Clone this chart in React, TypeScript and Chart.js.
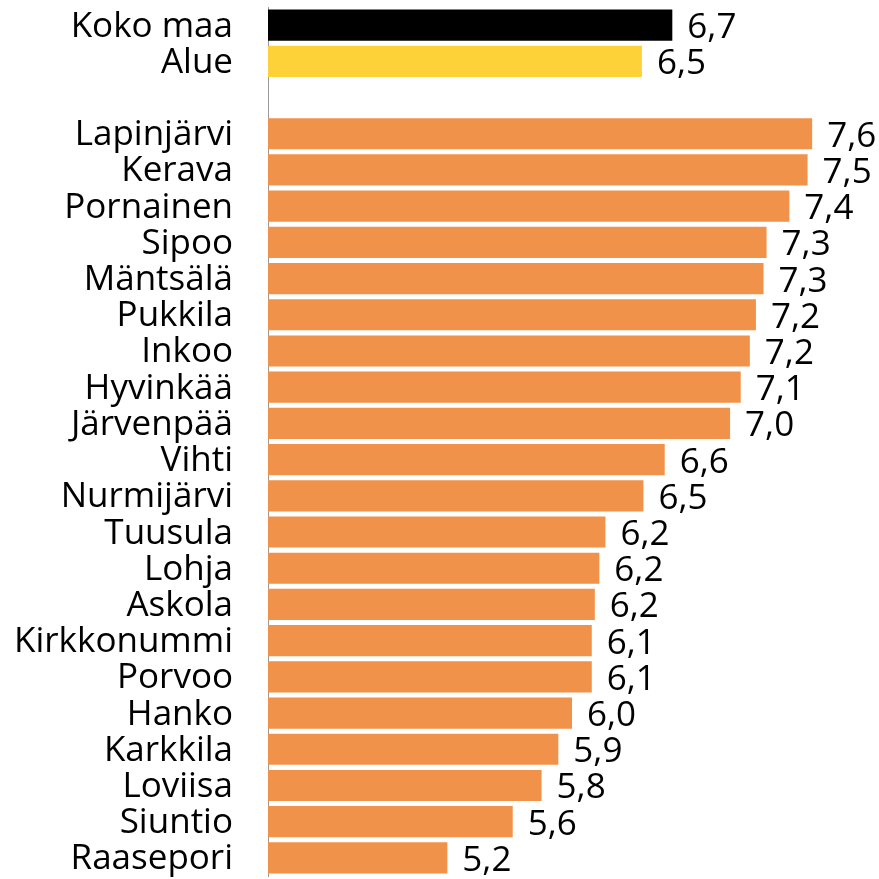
import React, { useEffect, useRef } from "react";
import { Chart, registerables } from "chart.js";

Chart.register(...registerables);

const categories = [
  "Koko maa", "Alue", "",
  "Lapinjärvi", "Kerava", "Pornainen", "Sipoo", "Mäntsälä", "Pukkila", "Inkoo",
  "Hyvinkää", "Järvenpää", "Vihti", "Nurmijärvi", "Tuusula", "Lohja", "Askola",
  "Kirkkonummi", "Porvoo", "Hanko", "Karkkila", "Loviisa", "Siuntio", "Raasepori",
];

const values: (number | null)[] = [
  6.66, 6.46, null,
  7.58, 7.55, 7.43, 7.28, 7.26, 7.21, 7.17,
  7.11, 7.04, 6.61, 6.47, 6.22, 6.18, 6.15,
  6.13, 6.13, 6.0, 5.91, 5.8, 5.61, 5.18,
];

const barColors = categories.map((c, i) => (i === 0 ? "#000000" : i === 1 ? "#FDD238" : "#F0924A"));

const FONT = "'Open Sans', sans-serif";
const FONT_SIZE = 35;

const labelsPlugin = {
  id: "labelsPlugin",
  afterDatasetsDraw(chart: any) {
    const ctx = chart.ctx;
    const meta = chart.getDatasetMeta(0);
    const yScale = chart.scales.y;
    ctx.save();
    ctx.font = `${FONT_SIZE}px ${FONT}`;
    ctx.fillStyle = "#000";
    ctx.textBaseline = "alphabetic";
    categories.forEach((c, i) => {
      if (!c) return;
      const y = yScale.getPixelForTick(i);
      ctx.textAlign = "right";
      ctx.fillText(c, 233, y + 11.5);
    });
    meta.data.forEach((bar: any, i: number) => {
      const v = values[i];
      if (v == null) return;
      const txt = v.toFixed(1).replace(".", ",");
      ctx.textAlign = "left";
      ctx.fillText(txt, bar.x + 15, bar.y + 13);
    });
    ctx.restore();
  },
};

export default function App() {
  const ref = useRef<HTMLCanvasElement>(null);
  useEffect(() => {
    if (!ref.current) return;
    const chart = new Chart(ref.current, {
      type: "bar",
      data: {
        labels: categories,
        datasets: [
          {
            data: values as any,
            backgroundColor: barColors,
            borderWidth: 0,
            categoryPercentage: 1,
            barPercentage: 0.86,
          },
        ],
      },
      options: {
        indexAxis: "y",
        animation: false,
        responsive: false,
        maintainAspectRatio: false,
        layout: { padding: { top: 7, bottom: 3, right: 3, left: 0 } },
        plugins: { legend: { display: false }, tooltip: { enabled: false } },
        scales: {
          x: {
            min: 4,
            max: 8,
            display: false,
          },
          y: {
            grid: { display: false, drawTicks: false },
            border: { display: true, color: "#9a9a9a", width: 1 },
            ticks: { display: false },
            afterFit: (scale: any) => {
              scale.width = 268;
            },
          },
        },
      },
      plugins: [labelsPlugin],
    });
    return () => chart.destroy();
  }, []);
  return (
    <div style={{ position: "fixed", left: 0, top: 0, width: 879, height: 879, background: "#fff" }}>
      <canvas ref={ref} width={879} height={879} style={{ width: 879, height: 879 }} />
    </div>
  );
}
